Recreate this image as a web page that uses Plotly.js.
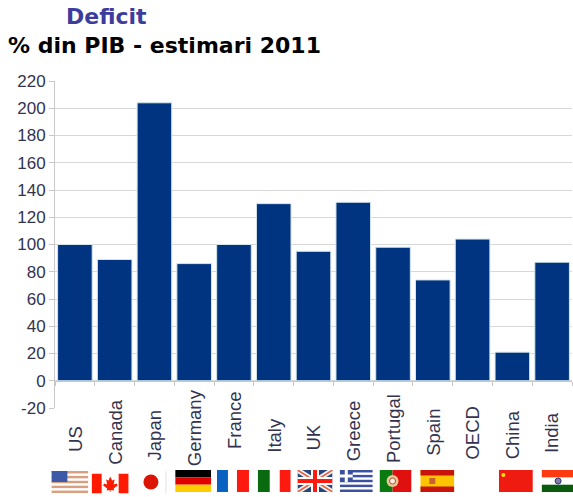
<!DOCTYPE html>
<html>
<head>
<meta charset="utf-8">
<script src="https://cdn.plot.ly/plotly-3.0.1.min.js"></script>
<style>html,body{margin:0;padding:0;background:#fff}</style>
</head>
<body>
<div id="chart" style="width:573px;height:497px"></div>
<script>
// Government debt by country, % of GDP, 2011 estimates
const categories = ["US","Canada","Japan","Germany","France","Italy","UK","Greece","Portugal","Spain","OECD","China","India"];
const values = [100, 89, 204, 86, 100, 130, 95, 131, 98, 74, 104, 21, 87];
const yTicks = [-20,0,20,40,60,80,100,120,140,160,180,200,220];

// Vertical centre of each rotated country label, px from the top of the page
const labelCenterY = [439,432,435,428,420,435,438,431,429,432,433,435,433];
// Horizontal nudge of each flag from its bar centre, px
const flagNudge = [-5,-4.500,-1.500,-1,-1,0.500,1.500,3,2.500,4.500,0,3.500,6];
// Vertical centre of each flag, px from the top of the page
const flagCenterY = [482,483.500,482,481,481,481,481,481,481,481,481,481,481];

const plotLeft = 55, plotWidth = 517, plotBottom = 408, plotHeight = 327;
const pxX = px => (px - plotLeft) / plotWidth;
const pxY = px => (plotBottom - px) / plotHeight;

function svg(w, h, body) {
  return "data:image/svg+xml;utf8," + encodeURIComponent(
    `<svg xmlns="http://www.w3.org/2000/svg" width="${w*4}" height="${h*4}" viewBox="0 0 ${w} ${h}">${body}</svg>`);
}
function rect(x,y,w,h,c){return `<rect x="${x}" y="${y}" width="${w}" height="${h}" fill="${c}"/>`;}
function stripes(w,h,n,c1,c2){
  let s=rect(0,0,w,h,c2);
  for(let i=0;i<n;i+=2) s+=rect(0,i*h/n,w,h/n,c1);
  return s;
}
const flags = {
  US: [37,22, stripes(37,22,9,"#d9a080","#ffffff") + rect(0,0,16,11,"#3c5aa8")],
  Canada: [37,20, rect(0,0,10,20,"#ff1a00")+rect(27,0,10,20,"#ff1a00")+
    `<path d="M18.500 3l2 4 2.500-1-1 5 3-1 1 2-4 3 .5 2-3.500-.5V18h-1v-1.500L15 17l.5-2-4-3 1-2 3 1-1-5 2.500 1z" fill="#ff1a00"/>`],
  Japan: [28,22, `<circle cx="12" cy="11" r="7.500" fill="#dc1405"/>`+rect(26.500,0,1,22,"#e2e2e2")],
  Germany: [36,22, rect(0,0,36,7.300,"#000000")+rect(0,7.300,36,7.400,"#e00000")+rect(0,14.700,36,7.300,"#ffcc00")],
  France: [32,22, rect(0,0,11,22,"#0a62c0")+rect(20,0,12,22,"#ff1a10")],
  Italy: [33,22, rect(0,0,12,22,"#0a6a10")+rect(22,0,11,22,"#ff1a10")],
  UK: [35,22, rect(0,0,35,22,"#28457f")+
    `<path d="M0 0L35 22M35 0L0 22" stroke="#f4f0ee" stroke-width="5"/><path d="M0 0L35 22M35 0L0 22" stroke="#e8603c" stroke-width="1.500"/>`+
    rect(13.500,0,8,22,"#fff")+rect(0,7,35,8,"#fff")+rect(15.500,0,4,22,"#ff1a10")+rect(0,9,35,4,"#ff1a10")],
  Greece: [33,22, stripes(33,22,9,"#3c50a0","#ffffff")+rect(0,0,13,12,"#3c50a0")+rect(5,0,3,12,"#fff")+rect(0,4.500,13,3,"#fff")],
  Portugal: [32,22, rect(0,0,13,22,"#0a7a10")+rect(13,0,19,22,"#e01010")+
    `<circle cx="13" cy="11" r="6" fill="#e8c890"/><circle cx="13" cy="11" r="3" fill="#f4f0e8" stroke="#b05030" stroke-width="1"/>`],
  Spain: [34,22, rect(0,0,34,22,"#ffc400")+rect(0,0,34,5.500,"#c8140a")+rect(0,16.500,34,5.500,"#c8140a")+rect(9,8,6,6,"#c86030")],
  China: [34,22, rect(0,0,34,22,"#ef1a10")+`<circle cx="4.500" cy="5" r="2" fill="#ffde00"/>`],
  India: [33,22, rect(0,0,33,7.300,"#ff3a10")+rect(0,14.700,33,7.300,"#0a5a10")+`<circle cx="16.500" cy="11" r="3" fill="#8080a8" stroke="#30307a"/>`]
};

const images = [];
categories.forEach((c,i)=>{
  const f = flags[c];
  if(!f) return;
  images.push({
    source: svg(f[0],f[1],f[2]),
    xref:"paper", yref:"paper",
    x: (i+0.5)/categories.length + flagNudge[i]/plotWidth, y: pxY(flagCenterY[i]),
    sizex: f[0]/plotWidth, sizey: f[1]/plotHeight,
    xanchor:"center", yanchor:"middle",
    sizing:"stretch", layer:"above"
  });
});

const sansStack = '"Liberation Sans",Arial,sans-serif';
const annotations = categories.map((c,i)=>({
  text:c, textangle:-90, showarrow:false,
  xref:"x", yref:"paper",
  x:i, y:pxY(labelCenterY[i]),
  xanchor:"center", yanchor:"middle",
  font:{family:sansStack, size:18.500, color:"#33334f"}
}));
annotations.push(
  {text:"<b>Deficit</b>", showarrow:false, xref:"paper", yref:"paper",
   x:pxX(64), y:pxY(17), xanchor:"left", yanchor:"middle",
   font:{family:'"DejaVu Sans"',size:22,color:"#3c3c9c"}},
  {text:"<b>% din PIB - estimari 2011</b>", showarrow:false, xref:"paper", yref:"paper",
   x:pxX(6), y:pxY(45), xanchor:"left", yanchor:"middle",
   font:{family:'"DejaVu Sans"',size:22,color:"#000000"}}
);

Plotly.newPlot("chart",[{
  type:"bar", x:categories, y:values,
  marker:{color:"#003380", line:{color:"#d5e6ea", width:1}},
  hoverinfo:"x+y"
}],{
  width:573, height:497,
  margin:{l:plotLeft,r:1,t:81,b:89,pad:0},
  paper_bgcolor:"#ffffff", plot_bgcolor:"#ffffff",
  bargap:0.13, showlegend:false,
  xaxis:{
    type:"category", categoryorder:"array", categoryarray:categories,
    anchor:"free", position:1/12,
    showticklabels:false, ticks:"outside", ticklen:4, tickcolor:"#c8c8c8", tickson:"boundaries",
    showline:true, linecolor:"#c8c8c8", linewidth:1, showgrid:false, zeroline:false
  },
  yaxis:{
    range:[-20,220], tickmode:"array", tickvals:yTicks, ticktext:yTicks.map(String),
    ticks:"outside", ticklen:5, tickcolor:"#c8c8c8",
    showline:true, linecolor:"#c8c8c8", linewidth:1,
    showgrid:true, gridcolor:"#d8d8d8", gridwidth:1, zeroline:false,
    tickfont:{family:sansStack, size:17, color:"#33334f"}
  },
  images, annotations
},{displayModeBar:false,staticPlot:true});
</script>
</body>
</html>
